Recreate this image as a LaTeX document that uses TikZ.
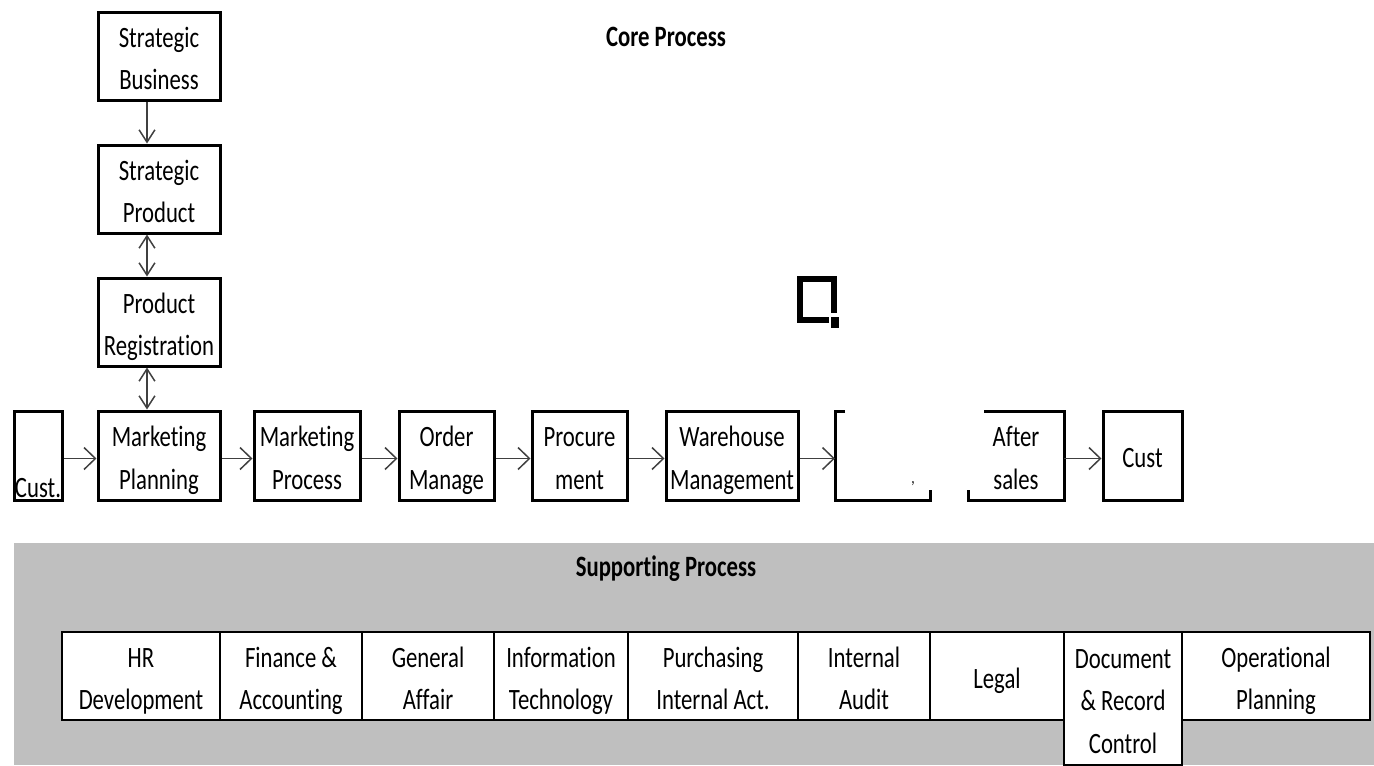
\documentclass[tikz,border=0pt]{standalone}
\usepackage{fontspec}
\setmainfont[FakeStretch=0.77,Ligatures=NoCommon]{Carlito}
\usepackage{tikz}
\usetikzlibrary{arrows.meta,positioning}
\definecolor{panel}{RGB}{191,191,191}
\newlength\px
\setlength\px{0.02cm}
\tikzset{box/.style={draw,line width=3\px,align=center,inner sep=0pt,
    minimum height=89\px,font=\fontsize{16.8}{24.4}\selectfont,
    execute at begin node=\rule{0pt}{#1},
    execute at end node=\rule[-4.3pt]{0pt}{4.3pt}},
  box/.default=42.9pt,
  ghost/.style={box,draw=none,outer sep=0pt},
  rim/.style={line width=3\px},
  cell/.style={box=#1,fill=white,line width=2.6\px,minimum height=88\px,
    anchor=north west,outer sep=0pt},
  cell/.default=42.9pt,
  title/.style={font=\fontsize{16.8}{24.4}\selectfont\bfseries},
  arr/.style={draw=black!75,line width=1.5\px,
    -{Straight Barb[length=6.5pt,width=12.5pt]}},
  varr/.style={draw=black!75,line width=1.5\px,
    -{Straight Barb[length=7pt,width=9pt]}},
  dbl/.style={varr,{Straight Barb[length=7pt,width=9pt]}-{Straight Barb[length=7pt,width=9pt]}}}

\begin{document}
\begin{tikzpicture}[x=0.02cm,y=-0.02cm]
\useasboundingbox (0,0) rectangle (1374,765);
\fill[panel] (14,543) rectangle (1374,765);
\node[title] (cp) at (666,37) {Core Process};
\node[title] (spp) at (666,569) {Supporting Process};

\node[box,minimum width=122\px,minimum height=88\px] (sb) at (159,56) {Strategic\\Business};
\node[box,minimum width=122\px,minimum height=88\px] (sp) at (159,189) {Strategic\\Product};
\node[box,minimum width=122\px,minimum height=88\px] (pr) at (159,322) {Product\\Registration};
\node[box,minimum width=122\px] (mpl) at (159,455.5) {Marketing\\Planning};
\node[box,minimum width=48\px] (c) at (38,455.5) {};
\node[above=0pt of c.south,inner sep=2pt,font=\fontsize{16.8}{24.4}\selectfont] (ct) {Cust.};
\node[box,minimum width=106\px] (mpr) at (307,455.5) {Marketing\\Process};
\node[box,minimum width=95\px] (om) at (446.5,455.5) {Order\\Manage};
\node[box,minimum width=95\px] (pc) at (579.5,455.5) {Procure\\ment};
\node[box,minimum width=132\px] (wm) at (732,455.5) {Warehouse\\Management};
\node[ghost,minimum width=95\px] (sh) at (882.5,455.5) {};
\node[font=\fontsize{10}{10}\selectfont] (cm) at (913,484) {,};
\node[ghost,minimum width=96\px] (as) at (1016,455.5) {After\\sales};
\node[box=18.5pt,minimum width=79\px] (cu) at (1142.5,455.5) {Cust};

\draw[rim] ([xshift=10\px]sh.north west) -- (sh.north west) -- (sh.south west)
  -- (sh.south east) -- ([yshift=10\px]sh.south east);
\draw[rim] ([xshift=16\px]as.north west) -- (as.north east) -- (as.south east)
  -- (as.south west) -- ([yshift=10\px]as.south west);

\draw[varr] ([xshift=-12\px]sb.south) -- ([xshift=-12\px]sp.north);
\draw[dbl] ([xshift=-12\px]sp.south) -- ([xshift=-12\px]pr.north);
\draw[dbl] ([xshift=-12\px]pr.south) -- ([xshift=-12\px]mpl.north);
\draw[arr] ([yshift=-3\px]c.east) -- ([yshift=-3\px]mpl.west);
\draw[arr] ([yshift=-3\px]mpl.east) -- ([yshift=-3\px]mpr.west);
\draw[arr] ([yshift=-3\px]mpr.east) -- ([yshift=-3\px]om.west);
\draw[arr] ([yshift=-3\px]om.east) -- ([yshift=-3\px]pc.west);
\draw[arr] ([yshift=-3\px]pc.east) -- ([yshift=-3\px]wm.west);
\draw[arr] ([yshift=-3\px]wm.east) -- ([yshift=-3\px]sh.west);
\draw[arr] ([yshift=-3\px]as.east) -- ([yshift=-3\px]cu.west);

\draw[line width=6\px] (829,320) -- (800,320) -- (800,279) -- (834,279) -- (834,313);
\fill (831,317) rectangle (839,328);

\node[cell,minimum width=158\px] (hr) at (62,632) {HR\\Development};
\node[cell,minimum width=142\px] (fa) at (hr.north east) {Finance \&\\Accounting};
\node[cell,minimum width=132\px] (ga) at (fa.north east) {General\\Affair};
\node[cell,minimum width=134\px] (it) at (ga.north east) {Information\\Technology};
\node[cell,minimum width=170\px] (pi) at (it.north east) {Purchasing\\Internal Act.};
\node[cell,minimum width=132\px] (ia) at (pi.north east) {Internal\\Audit};
\node[cell=18.5pt,minimum width=134\px] (lg) at (ia.north east) {Legal};
\node[cell=67.3pt,minimum width=118\px,minimum height=133\px] (dr) at (lg.north east) {Document\\\& Record\\Control};
\node[cell,minimum width=188\px] (op) at (dr.north east) {Operational\\Planning};
\end{tikzpicture}
\end{document}
